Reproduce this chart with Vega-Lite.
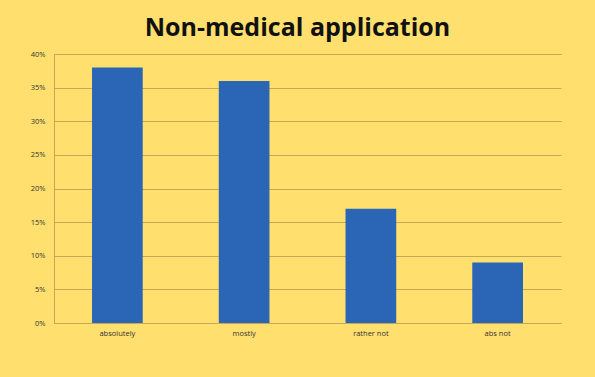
{
  "$schema": "https://vega.github.io/schema/vega-lite/v6.json",
  "autosize": "none",
  "width": 507,
  "height": 269,
  "padding": {"left": 54, "top": 54, "right": 34, "bottom": 54},
  "background": "#FFE06E",
  "title": {
    "text": "Non-medical application",
    "font": "Open Sans",
    "fontSize": 25,
    "fontWeight": "bold",
    "color": "#111111",
    "anchor": "middle",
    "dx": -10,
    "dy": 30,
    "offset": 19,
    "baseline": "alphabetic"
  },
  "data": {
    "values": [
      {"answer": "absolutely", "share": 0.38},
      {"answer": "mostly", "share": 0.36},
      {"answer": "rather not", "share": 0.17},
      {"answer": "abs not", "share": 0.09}
    ]
  },
  "config": {
    "view": {"stroke": null},
    "axis": {"labelFont": "Open Sans", "labelColor": "#333333", "labelFontSize": 7.5}
  },
  "mark": {"type": "bar", "color": "#2B65B5"},
  "encoding": {
    "x": {
      "field": "answer",
      "type": "nominal",
      "sort": null,
      "scale": {"paddingInner": 0.6, "paddingOuter": 0.3},
      "axis": {
        "title": null,
        "labelAngle": 0,
        "ticks": false,
        "domain": true,
        "domainColor": "#C4A858",
        "labelPadding": 6
      }
    },
    "y": {
      "field": "share",
      "type": "quantitative",
      "scale": {"domain": [0, 0.4], "nice": false},
      "axis": {
        "title": null,
        "format": ".0%",
        "values": [0, 0.05, 0.1, 0.15, 0.2, 0.25, 0.3, 0.35, 0.4],
        "ticks": false,
        "domain": true,
        "domainColor": "#C4A858",
        "gridColor": "#C4A858",
        "gridOpacity": 1,
        "labelPadding": 9
      }
    }
  }
}
